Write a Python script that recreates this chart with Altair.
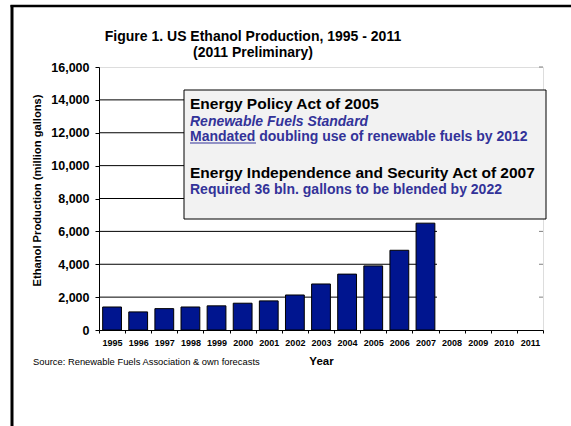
import altair as alt
import pandas as pd

years = [str(y) for y in range(1995, 2012)]
production = [1400, 1100, 1300, 1400, 1470, 1630, 1770, 2130, 2800, 3400, 3900, 4850, 6500,
              None, None, None, None]
grid_values = [2000, 4000, 6000, 8000, 10000, 12000, 14000]
stub_values = [2000, 4000, 6000, 8000, 10000, 12000, 14000, 16000]
ytick_values = [0, 2000, 4000, 6000, 8000, 10000, 12000, 14000, 16000]

title_lines = ["Figure 1. US Ethanol Production, 1995 - 2011", "(2011 Preliminary)"]
title_y = [-30, -14]
ann_lines = [
    ("Energy Policy Act of 2005", "black", "normal", 15.5),
    ("Renewable Fuels Standard", "#333399", "italic", 14),
    ("Mandated doubling use of renewable fuels by 2012", "#333399", "normal", 14),
    ("Energy Independence and Security Act of 2007", "black", "normal", 15.5),
    ("Required 36 bln. gallons to be blended by 2022", "#333399", "normal", 14),
]
ann_y = [37, 55, 70, 106, 123]
source_text = "Source: Renewable Fuels Association & own forecasts"

W, H = 444, 263
FONT = "Liberation Sans"

df = pd.DataFrame({"Year": years, "Production": production})
one = alt.Data(values=[{"a": 1}])

xscale = alt.Scale(domain=years, paddingInner=0, paddingOuter=0)
yscale = alt.Scale(domain=[0, 16000])

def yaxis():
    return alt.Axis(title="Ethanol Production (million gallons)",
                    values=ytick_values, labelOverlap=False, tickCount=9,
                    format=",d", grid=False, labelFont=FONT, labelFontSize=12.5,
                    labelFontWeight="bold", labelColor="black", labelPadding=6,
                    tickSize=4, tickColor="black", domainColor="black",
                    titleFont=FONT, titleFontSize=11.2, titleFontWeight="bold",
                    titleColor="black", titleX=-62, titleY=123,
                    titleBaseline="middle")

xaxis = alt.Axis(title="Year", labelAngle=0, labelFont=FONT, labelFontSize=9,
                 labelFontWeight="bold", labelColor="black", labelPadding=5,
                 labelOverlap=False,
                 tickSize=3, tickColor="black", domainColor="black",
                 bandPosition=0, tickBand="extent",
                 titleFont=FONT, titleFontSize=11.5, titleFontWeight="bold",
                 titleColor="black", titlePadding=8)

grid = alt.Chart(pd.DataFrame({"v": grid_values})).mark_rule(color="black", strokeWidth=1).encode(
    x=alt.value(0), x2=alt.value(338),
    y=alt.Y("v:Q", scale=yscale, axis=yaxis()),
)
stubs = alt.Chart(pd.DataFrame({"v": stub_values})).mark_rule(color="#808080", strokeWidth=1).encode(
    x=alt.value(W - 4), x2=alt.value(W),
    y=alt.Y("v:Q", scale=yscale, axis=yaxis()),
)

bars = alt.Chart(df).mark_bar(color="#00158F", stroke="black", strokeWidth=1,
                              width={"band": 0.72}).encode(
    x=alt.X("Year:N", scale=xscale, sort=years, axis=xaxis),
    y=alt.Y("Production:Q", scale=yscale, axis=yaxis()),
)

box = alt.Chart(one).mark_rect(fill="#F2F2F2", stroke="black", strokeWidth=1).encode(
    x=alt.value(85), x2=alt.value(447), y=alt.value(23), y2=alt.value(152)
)

texts = []
for (txt, col, style, size), yy in zip(ann_lines, ann_y):
    texts.append(alt.Chart(one).mark_text(
        text=txt, color=col, fontStyle=style, fontWeight="bold", fontSize=size,
        font=FONT, align="left", baseline="middle"
    ).encode(x=alt.value(91), y=alt.value(yy)))

titles = []
for txt, yy in zip(title_lines, title_y):
    titles.append(alt.Chart(one).mark_text(
        text=txt, color="black", fontWeight="bold", fontSize=14, font=FONT,
        align="center", baseline="middle"
    ).encode(x=alt.value(154), y=alt.value(yy)))

underline = alt.Chart(one).mark_rule(color="#333399", strokeWidth=1).encode(
    x=alt.value(91), x2=alt.value(157), y=alt.value(76)
)

source = alt.Chart(one).mark_text(
    text=source_text, fontSize=9.4, font=FONT, color="black", align="left", baseline="middle"
).encode(x=alt.value(-66), y=alt.value(H + 32))

frame_left = alt.Chart(one).mark_rule(color="black", strokeWidth=3).encode(
    x=alt.value(-87), y=alt.value(-62), y2=alt.value(H + 100)
)
frame_top = alt.Chart(one).mark_rule(color="black", strokeWidth=2.5).encode(
    x=alt.value(-88.5), x2=alt.value(W + 40), y=alt.value(-61)
)

chart = alt.layer(grid, stubs, bars, box, *texts, underline, *titles, source,
                  frame_left, frame_top).properties(
    width=W, height=H,
    autosize=alt.AutoSizeParams(type="none"),
    padding={"left": 99, "top": 67, "right": 28, "bottom": 96},
).configure_view(stroke="#808080", strokeWidth=1).configure(background="white")

chart.save("out.html", embed_options={"renderer": "svg", "actions": False})
